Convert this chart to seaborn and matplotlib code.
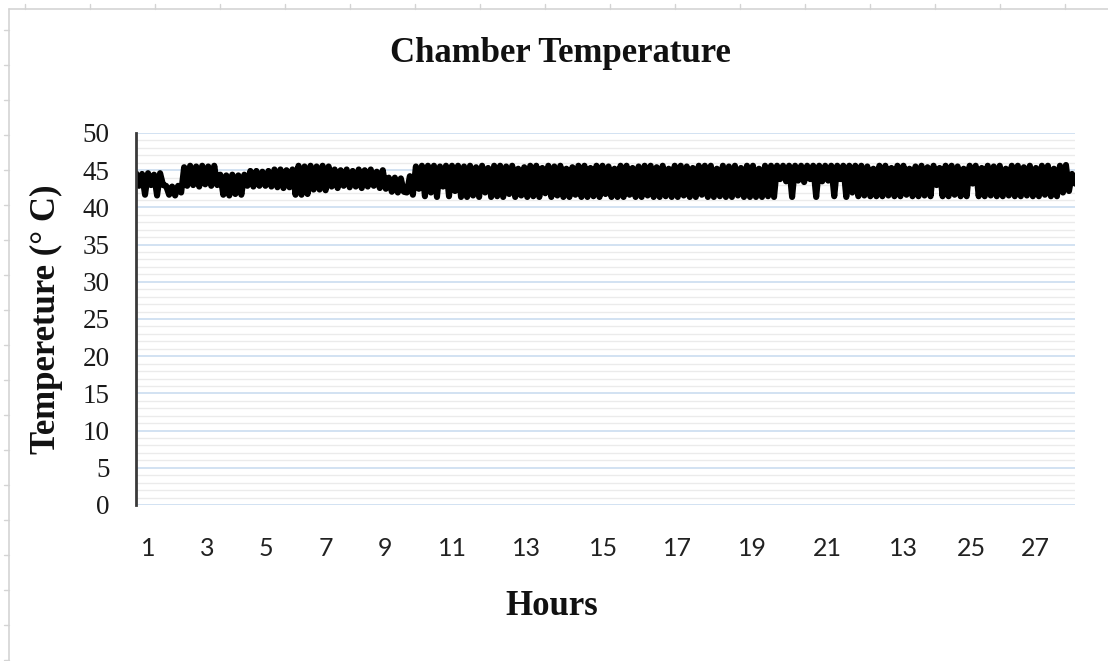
import numpy as np
import pandas as pd
import matplotlib.pyplot as plt
import seaborn as sns
from matplotlib.lines import Line2D

sns.set_theme(style="white")
plt.rcParams['font.family'] = ['Liberation Serif', 'DejaVu Serif']

# Chamber temperature readings (°C), split by stretch of the run
temp_start = [44.6, 42.9, 44.5, 41.7, 44.6, 43.0, 44.4, 41.6, 44.6, 43.0,
              42.9, 41.7, 42.8, 41.6, 42.9,
              42.0, 45.4, 42.9, 45.6, 43.0, 45.5, 42.8, 45.6, 43.1, 45.5, 42.9, 45.6, 43.0,
              44.4, 41.7, 44.3, 41.6, 44.4, 41.8, 44.3, 41.7, 44.4,
              42.9, 44.9, 42.8]
temp_early = [44.9, 42.9, 44.8, 42.9, 44.9, 42.8,
              45.1, 42.7, 45.1, 42.6, 45.0, 42.7, 45.1,
              41.7, 45.6, 41.7, 45.5, 41.8,
              45.6, 42.4, 45.5, 42.4, 45.6, 42.3, 45.5,
              42.8, 45.1, 42.6, 45.0, 42.9, 45.1, 42.7, 44.9, 42.8, 45.1,
              42.6, 45.0, 42.8, 45.1, 42.9, 44.8, 42.6, 45.0, 42.5,
              44.0, 42.1, 44.0, 42.0, 43.9, 42.1]
temp_rising = [42.0, 44.2, 41.7, 45.5, 42.5, 45.6, 41.5, 45.6, 42.0, 45.6,
               41.4, 45.5, 42.8, 45.6, 41.5, 45.6, 42.2, 45.6, 41.4, 45.5]
temp_middle = [41.4, 45.6, 41.6, 45.4, 41.4, 45.6, 42.0, 45.3, 41.4, 45.6,
               41.5, 45.6, 41.4, 45.5, 41.8, 45.6, 41.4, 45.2, 41.6, 45.4,
               41.4, 45.6, 41.5, 45.6, 41.4, 45.3, 41.9, 45.6, 41.4, 45.5,
               41.6, 45.6, 41.4, 45.2, 41.4, 45.4, 41.7, 45.6, 41.4, 45.6,
               41.4, 45.3, 41.5, 45.6, 41.4, 45.6, 41.8, 45.5, 41.4, 45.2,
               41.4, 45.6, 41.4, 45.6, 41.7, 45.3, 41.4, 45.5, 41.4, 45.6,
               41.6, 45.6, 41.4, 45.4, 41.4, 45.6, 41.5, 45.2, 41.4, 45.6,
               41.4, 45.6, 41.6, 45.5, 41.4, 45.3, 41.4, 45.6, 41.7, 45.6,
               41.4, 45.6, 41.4, 45.2, 41.5, 45.6, 41.4, 45.5, 41.4, 45.6,
               41.6, 45.3, 41.4, 45.6, 41.4, 45.6, 41.4, 45.2, 41.4, 45.6]
temp_high = [41.5, 45.6, 41.4, 45.6, 43.8, 45.6, 43.5, 45.6, 41.4, 45.6,
             43.6, 45.6, 43.4, 45.6, 43.8, 45.6, 41.4, 45.6, 43.5, 45.6,
             43.6, 45.6, 41.5, 45.6, 43.8, 45.6, 41.4, 45.6, 42.0, 45.6]
temp_late = [41.5, 45.6, 41.6, 45.5, 41.5, 45.2, 41.5, 45.6, 41.5, 45.6,
             41.6, 45.3, 41.5, 45.6, 41.5, 45.6, 41.7, 45.2, 41.5, 45.5,
             41.5, 45.6, 41.6, 45.4, 41.5, 45.6, 43.0, 45.3, 41.5, 45.6,
             41.5, 45.6, 41.7, 45.5, 41.5, 45.2, 41.5, 45.6, 43.2, 45.6,
             41.5, 45.3, 41.5, 45.6, 41.6, 45.5, 41.5, 45.6, 41.5, 45.2,
             41.6, 45.6, 41.5, 45.6, 41.5, 45.4, 41.6, 45.6, 41.5, 45.3,
             41.5, 45.6, 41.7, 45.6, 41.5, 45.2, 41.5, 45.6, 42.0, 45.7,
             42.2, 44.5, 43.2]

# x-axis labels as printed on the original (note the "13" after 21)
hour_labels = ['1', '3', '5', '7', '9', '11', '13', '15', '17', '19', '21', '13', '25', '27']
# where those labels sit, in sample index units
hour_label_pos = [4.0, 23.6, 43.2, 63.1, 82.7, 105.0, 129.9, 155.2,
                  179.8, 204.7, 229.6, 254.9, 277.5, 298.7]

temps = temp_start + temp_early + temp_rising + temp_middle + temp_high + temp_late
df = pd.DataFrame({'sample': np.arange(len(temps)), 'temp': temps})

W, H = 1108, 661
fig = plt.figure(figsize=(W / 100, H / 100), dpi=100)
ax = fig.add_axes([136 / W, (H - 505) / H, 939 / W, 372 / H])

sns.lineplot(data=df, x='sample', y='temp', color='black', linewidth=4.4, ax=ax)

ax.set_xlim(0, len(temps) - 1)
ax.set_ylim(0, 50)
ax.set_yticks(np.arange(0, 51, 5))
ax.set_yticks(np.arange(0, 51, 1), minor=True)
ax.grid(axis='y', which='major', color='#C6DAEF', linewidth=1.1)
ax.grid(axis='y', which='minor', color='#EBEBEB', linewidth=1.0)
ax.set_axisbelow(True)
for side in ['top', 'right', 'bottom']:
    ax.spines[side].set_visible(False)
ax.spines['left'].set_color('#3a3a3a')
ax.spines['left'].set_linewidth(2)

ax.set_xticks(hour_label_pos)
ax.set_xticklabels(hour_labels, family=['Lato', 'DejaVu Sans'], fontsize=18, color='#222222')
ax.tick_params(axis='x', length=0, pad=23)
ax.tick_params(axis='y', which='both', length=0, pad=19, labelsize=19.5, labelcolor='#1a1a1a')

ax.set_xlabel('Hours', fontsize=25, fontweight='bold', color='#111111')
ax.xaxis.set_label_coords(0.443, -0.228)
ax.set_ylabel('Tempereture (° C)', fontsize=25, fontweight='bold', color='#111111')
ax.yaxis.set_label_coords(-0.078, 0.5)

fig.text(560 / W, 1 - 54 / H, 'Chamber Temperature', ha='center', va='center',
         fontsize=25, fontweight='bold', color='#111111')

# light frame around the chart area, like the original screenshot
frame = '#d4d4d4'
fig.add_artist(Line2D([9 / W, 9 / W], [0, 1 - 9 / H], color=frame, lw=1.2, transform=fig.transFigure))
fig.add_artist(Line2D([9 / W, 1], [1 - 9 / H, 1 - 9 / H], color=frame, lw=1.2, transform=fig.transFigure))
for px in range(25, W, 65):
    fig.add_artist(Line2D([px / W, px / W], [1 - 9 / H, 1 - 4 / H], color=frame, lw=1, transform=fig.transFigure))
for py in range(30, H, 35):
    fig.add_artist(Line2D([4 / W, 9 / W], [1 - py / H, 1 - py / H], color=frame, lw=1, transform=fig.transFigure))

fig.savefig('out.png', dpi=100)
